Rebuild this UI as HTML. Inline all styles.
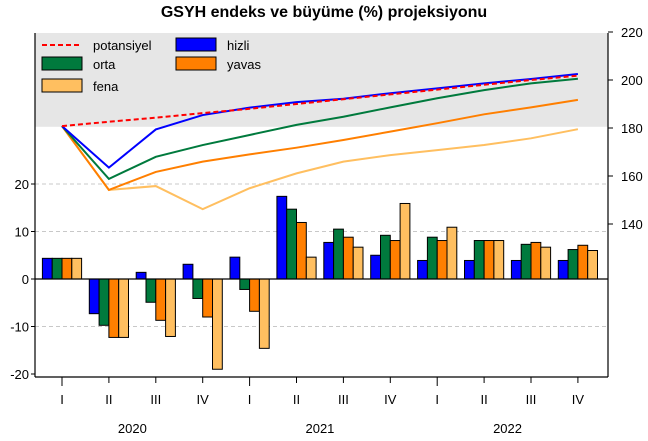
<!DOCTYPE html>
<html><head><meta charset="utf-8"><style>
body{margin:0;background:#fff}
svg text{font-family:"Liberation Sans",sans-serif;fill:#000}
</style></head><body>
<svg id="c" width="648" height="436"></svg>
<script>
const quarters=["I","II","III","IV","I","II","III","IV","I","II","III","IV"];
const years=["2020","2021","2022"];
const leftTicks=[20,10,0,-10,-20];
const rightTicks=[220,200,180,160,140];
const growthHizli=[4.35,-7.3,1.4,3.1,4.6,17.4,7.7,5.0,3.9,3.9,3.9,3.9];
const growthOrta=[4.35,-9.75,-4.9,-4.1,-2.2,14.7,10.5,9.2,8.8,8.1,7.3,6.2];
const growthYavas=[4.35,-12.3,-8.7,-8.0,-6.8,11.9,8.8,8.1,8.1,8.1,7.7,7.1];
const growthFena=[4.35,-12.3,-12.1,-19.0,-14.6,4.6,6.7,15.9,10.9,8.1,6.7,6.0];
const idxPotansiyel=[180.8,182.6,184.3,186.2,188.0,190.0,192.0,194.0,196.0,198.0,200.0,201.8];
const idxHizli=[180.8,163.5,179.4,185.4,188.5,190.8,192.2,194.5,196.5,198.6,200.4,202.5];
const idxOrta=[180.8,158.8,168.0,172.9,177.1,181.3,184.7,188.6,192.4,195.8,198.6,200.5];
const idxYavas=[180.8,154.2,161.7,166.0,169.0,171.8,175.0,178.5,182.0,185.7,188.6,191.7];
const idxFena=[180.8,154.2,155.8,146.2,154.9,161.1,166.0,168.7,170.8,172.9,175.7,179.5];

const NS="http://www.w3.org/2000/svg",svg=document.getElementById('c');
function mk(t,a,p){const e=document.createElementNS(NS,t);for(const k in a)e.setAttribute(k,a[k]);(p||svg).appendChild(e);return e;}
const L=35,R=608,T=33,B=377;
const xc=i=>62+i*46.9;
const yL=v=>279-v*4.75;
const yR=v=>32+(220-v)*2.4;

// gray band
const band=mk('rect',{x:L,y:T,width:R-L,height:yR(180.5)-T,fill:'#e6e6e6'});


// gridlines
[20,10,-10].forEach(v=>{const g=mk('line',{x1:L,x2:R,y1:yL(v),y2:yL(v),stroke:'#c8c8c8','stroke-dasharray':'4,3'});

});
// title
const t=mk('text',{x:324,y:17,'text-anchor':'middle','font-size':'16','font-weight':'bold'});t.textContent='GSYH endeks ve büyüme (%) projeksiyonu';


// bars
const series=[[growthHizli,'#0000ff','hizli'],[growthOrta,'#007a3d','orta'],[growthYavas,'#ff7f00','yavas'],[growthFena,'#ffbf60','fena']];
const bw=9.8;
series.forEach((s,si)=>{s[0].forEach((v,i)=>{const x=xc(i)-2*bw+si*bw;const y0=yL(0),y1=yL(v);
const r=mk('rect',{x:x,y:Math.min(y0,y1),width:bw,height:Math.abs(y1-y0),fill:s[1],stroke:'#000','stroke-width':1});

});});
// zero line
const z=mk('line',{x1:L,x2:R,y1:yL(0),y2:yL(0),stroke:'#000','stroke-width':1.2});


// lines
const lines=[[idxFena,'#ffbf60','fena',null],[idxYavas,'#ff7f00','yavas',null],[idxOrta,'#007a3d','orta',null],[idxHizli,'#0000ff','hizli',null],[idxPotansiyel,'#ff0000','potansiyel','5,3']];
lines.forEach(l=>{const pts=l[0].map((v,i)=>xc(i)+','+yR(v)).join(' ');
const a={points:pts,fill:'none',stroke:l[1],'stroke-width':2};if(l[3])a['stroke-dasharray']=l[3];
const p=mk('polyline',a);

});
// axes frame
[[L,T,L,B],[L,B,R,B],[R,T,R,B]].forEach(c=>{const a=mk('line',{x1:c[0],y1:c[1],x2:c[2],y2:c[3],stroke:'#000','stroke-width':1.2});

});
// left ticks
leftTicks.forEach(v=>{mk('line',{x1:L-4,x2:L,y1:yL(v),y2:yL(v),stroke:'#000'});
const tx=mk('text',{x:L-6,y:yL(v)+5,'text-anchor':'end','font-size':'13'});tx.textContent=v;

});
// right ticks
rightTicks.forEach(v=>{mk('line',{x1:R,x2:R+5,y1:yR(v),y2:yR(v),stroke:'#000'});
const tx=mk('text',{x:R+13,y:yR(v)+5,'font-size':'13'});tx.textContent=v;

});
// x ticks
quarters.forEach((q,i)=>{mk('line',{x1:xc(i),x2:xc(i),y1:B,y2:B+(i%4==0?9:6),stroke:'#000'});
const tx=mk('text',{x:xc(i),y:404,'text-anchor':'middle','font-size':'13'});tx.textContent=q;

});
years.forEach((y,j)=>{const tx=mk('text',{x:(xc(j*4+1)+xc(j*4+2))/2,y:433,'text-anchor':'middle','font-size':'13'});tx.textContent=y;

});
// legend
const leg=mk('g',{});


mk('line',{x1:42,x2:82,y1:45,y2:45,stroke:'#ff0000','stroke-width':2,'stroke-dasharray':'5,3'},leg);
const items=[['potansiyel',null,42,45],['orta','#007a3d',42,64],['fena','#ffbf60',42,86],['hizli','#0000ff',176,45],['yavas','#ff7f00',176,64]];
items.forEach(it=>{if(it[1])mk('rect',{x:it[2],y:it[3]-7,width:40,height:13,fill:it[1],stroke:'#000'},leg);
const tx=mk('text',{x:it[2]+51,y:it[3]+5,'font-size':'13'},leg);tx.textContent=it[0];

});
</script>
</body></html>
